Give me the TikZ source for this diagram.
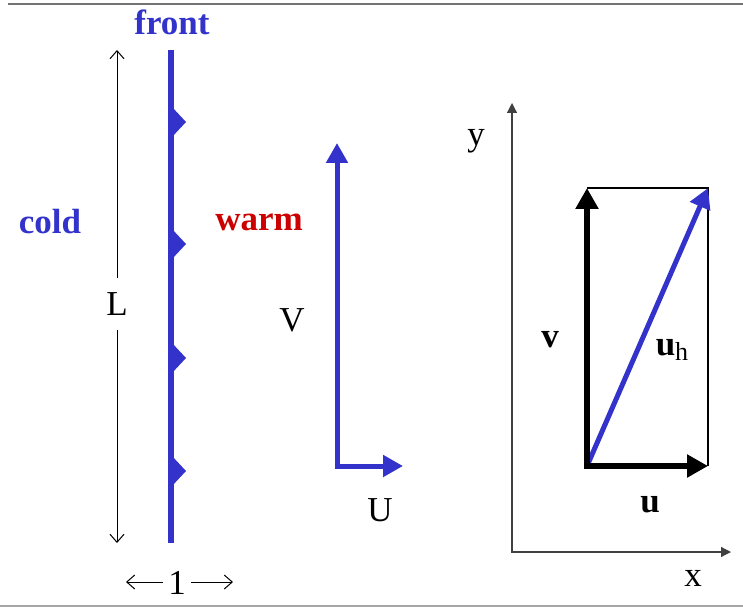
\documentclass[tikz,border=0pt]{standalone}
\usepackage{fontspec}
\setmainfont{Liberation Serif}
\usetikzlibrary{arrows.meta}
\definecolor{frontblue}{RGB}{51,51,204}
\definecolor{warmred}{RGB}{204,0,0}
\tikzset{
  lbl/.style={font=\fontsize{17.5}{20}\selectfont},
  blbl/.style={font=\fontsize{17.5}{20}\selectfont\bfseries},
  dim/.style={line width=0.5pt,-{Straight Barb[length=4pt,width=7pt]}},
  axis/.style={line width=0.6pt,draw=black!75,{Triangle[length=5pt,width=5pt]}-{Triangle[length=5pt,width=5pt]}},
  bluevec/.style={frontblue,line width=2.5pt,line cap=rect,-{Triangle[length=10pt,width=10.5pt]}},
  blackvec/.style={black,line width=2.7pt,line cap=rect,-{Triangle[length=10.5pt,width=11pt]}}
}
\begin{document}
\begin{tikzpicture}[x=0.5pt,y=-0.5pt,line join=miter]
  \useasboundingbox (0,0) rectangle (743,609);
  \draw[line width=1pt,black!55] (8,4) -- (743,4);
  \draw[line width=1.2pt,black!35] (0,606) -- (743,606);

  % front
  \coordinate (Ftop) at (171,50);
  \coordinate (Fbot) at (171,543);
  \node[blbl,text=frontblue] (front) at (172,22) {front};
  \draw[frontblue,line width=3pt] (Ftop) -- (Fbot);
  \foreach \ty in {122,244,358,471}
    \fill[frontblue] (172,\ty-15) -- (186,\ty) -- (172,\ty+15) -- cycle;
  \node[blbl,text=frontblue] (cold) at (50,222) {cold};
  \node[blbl,text=warmred] (warm) at (259,222) {warm};

  % L and 1
  \coordinate (Ltop) at (117,50);
  \coordinate (Lbot) at (117,543);
  \node[lbl,inner ysep=7pt] (L) at (117,304) {L};
  \draw[dim] (L) -- (Ltop);
  \draw[dim] (L) -- (Lbot);
  \coordinate (wl) at (126,582);
  \coordinate (wr) at (233,582);
  \node[lbl,inner xsep=2.5pt,inner ysep=0pt] (one) at (177,583) {1};
  \draw[dim] (one.west |- wl) -- (wl);
  \draw[dim] (one.east |- wr) -- (wr);

  % U, V
  \coordinate (O1) at (337,466);
  \coordinate (Vtip) at (337,143);
  \coordinate (Utip) at (403,466);
  \draw[bluevec] (O1) -- (Vtip);
  \draw[bluevec] (O1) -- (Utip);
  \node[lbl] (V) at (292,320) {V};
  \node[lbl] (U) at (380,510) {U};

  % axes and components
  \coordinate (A) at (512,552);
  \coordinate (ytop) at (512,103);
  \coordinate (xend) at (731,552);
  \draw[axis] (ytop) -- (A) -- (xend);
  \node[lbl] (y) at (476,141) {y};
  \node[lbl] (x) at (693,578) {x};
  \coordinate (O2) at (587,466);
  \coordinate (vtop) at (587,188);
  \coordinate (urt) at (708,466);
  \coordinate (uh) at (708,188);
  \draw[line width=0.7pt] (vtop) -- (uh) -- (urt);
  \draw[bluevec,line cap=butt] (O2) -- (uh);
  \draw[blackvec] (O2) -- (vtop);
  \draw[blackvec] (O2) -- (urt);
  \node[blbl] (v) at (550,340) {v};
  \node[blbl] (uhl) at (672,350) {u\raisebox{-0.35ex}{\fontsize{13}{13}\mdseries\selectfont h}};
  \node[blbl] (u) at (650,505) {u};
\end{tikzpicture}
\end{document}
